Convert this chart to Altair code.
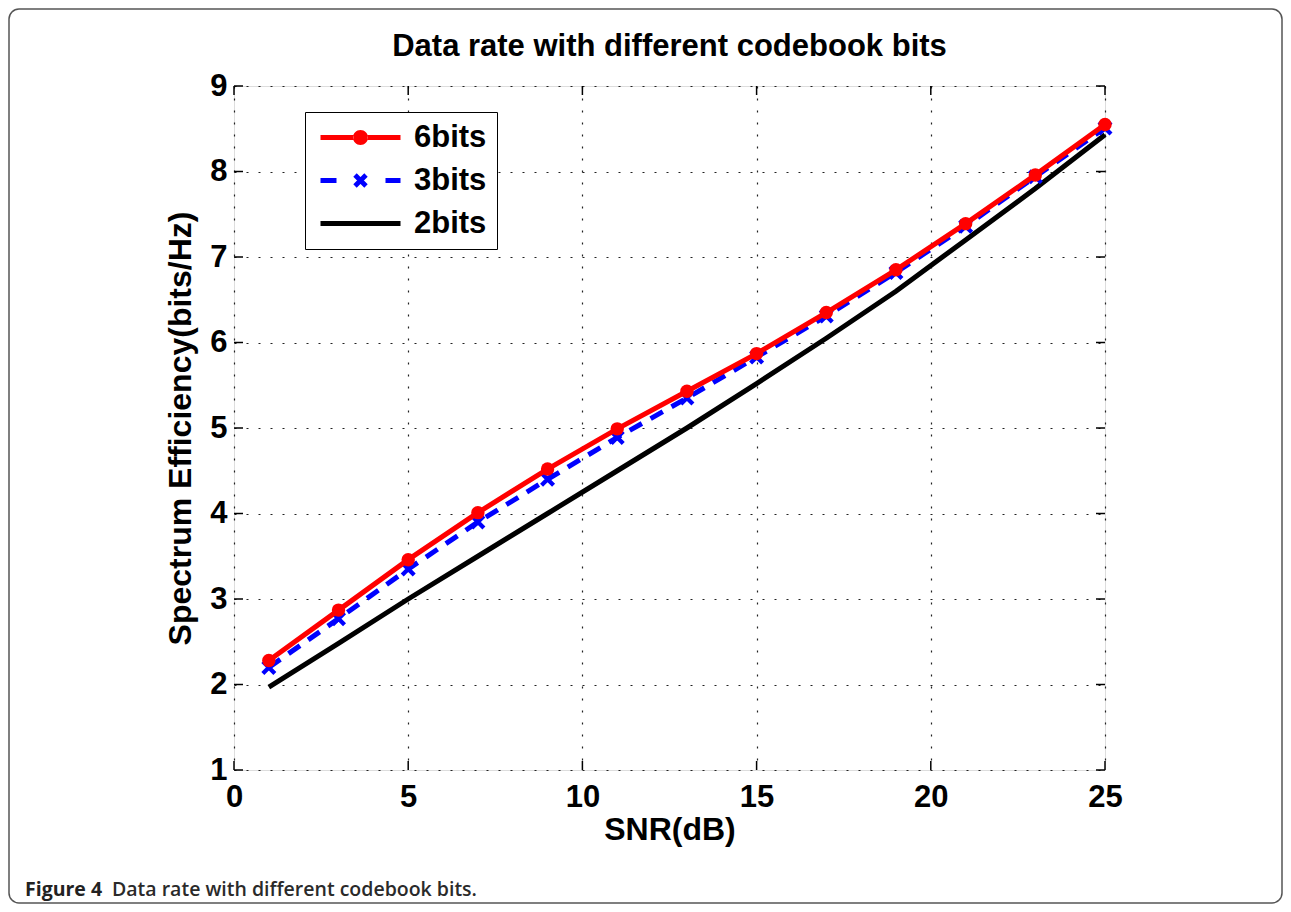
import altair as alt
import pandas as pd

snr = [1, 3, 5, 7, 9, 11, 13, 15, 17, 19, 21, 23, 25]
bits6 = [2.28, 2.87, 3.46, 4.01, 4.52, 4.99, 5.43, 5.87, 6.35, 6.85, 7.39, 7.96, 8.55]
bits3 = [2.20, 2.77, 3.35, 3.90, 4.40, 4.89, 5.35, 5.83, 6.31, 6.82, 7.36, 7.94, 8.51]
bits2 = [1.97, 2.48, 3.00, 3.50, 4.00, 4.50, 5.00, 5.52, 6.05, 6.60, 7.20, 7.80, 8.43]
series = ["6bits", "3bits", "2bits"]
colors = ["#ff0000", "#0000ff", "#000000"]
x_ticks = [0, 5, 10, 15, 20, 25]
y_ticks = [1, 2, 3, 4, 5, 6, 7, 8, 9]
title_text = "Data rate with different codebook bits"
caption_bold = "Figure 4"
caption_text = "Data rate with different codebook bits."

W, H = 871, 684
FONT = "Liberation Sans"


def x_path(cx, r, d):
    pts1 = [(-r + d, -r - d), (r + d, r - d), (r - d, r + d), (-r - d, -r + d)]
    pts2 = [(r + d, -r + d), (-r + d, r + d), (-r - d, r - d), (r - d, -r - d)]
    out = ""
    for pts in (pts1, pts2):
        out += "M" + " L".join(f"{cx + a:.3f},{b:.3f}" for a, b in pts) + " Z "
    return out.strip()


X_MARK = x_path(0, 1, 0.25)
t = 0.25
cr = 0.75
LEG_6 = (f"M-1,{-t} L{3 - cr + 0.03},{-t} L{3 - cr + 0.03},{t} L-1,{t} Z "
         f"M{3 + cr - 0.03},{-t} L7,{-t} L7,{t} L{3 + cr - 0.03},{t} Z "
         f"M{3 - cr},0 A{cr},{cr} 0 1,0 {3 + cr},0 "
         f"A{cr},{cr} 0 1,0 {3 - cr},0 Z")
LEG_3 = (f"M-1,{-t} L0.6,{-t} L0.6,{t} L-1,{t} Z "
         f"M5.5,{-t} L7,{-t} L7,{t} L5.5,{t} Z " + x_path(3, 0.55, 0.17))
LEG_2 = f"M-1,{-t} L7,{-t} L7,{t} L-1,{t} Z"

df6 = pd.DataFrame({"snr": snr, "v": bits6})
df3 = pd.DataFrame({"snr": snr, "v": bits3})
df2 = pd.DataFrame({"snr": snr, "v": bits2})
xs = alt.Scale(domain=[0, 25], nice=False, zero=False)
ys = alt.Scale(domain=[1, 9], nice=False, zero=False)

X = alt.X("snr:Q", scale=xs, title="SNR(dB)",
          axis=alt.Axis(values=x_ticks, format="d", ticks=False, domain=False,
                        labelFlush=False,
                        labelFont=FONT, labelFontSize=31, labelFontWeight="bold",
                        labelPadding=12, labelColor="black",
                        titleFont=FONT, titleFontSize=32, titleFontWeight="bold",
                        titleColor="black", titlePadding=2,
                        grid=True, gridDash=[2, 10], gridColor="#222",
                        gridWidth=1.2))
Y = alt.Y("v:Q", scale=ys, title="Spectrum Efficiency(bits/Hz)",
          axis=alt.Axis(values=y_ticks, format="d", ticks=False, domain=False,
                        labelFlush=False,
                        labelFont=FONT, labelFontSize=31, labelFontWeight="bold",
                        labelPadding=7, labelColor="black",
                        titleFont=FONT, titleFontSize=32, titleFontWeight="bold",
                        titleColor="black", titlePadding=12,
                        grid=True, gridDash=[2, 10], gridColor="#222",
                        gridWidth=1.2))

line2 = alt.Chart(df2).mark_line(color="black", strokeWidth=5).encode(x=X, y=Y)
line3 = alt.Chart(df3).mark_line(color="#0000ff", strokeWidth=5,
                                 strokeDash=[14, 10]).encode(x=X, y=Y)
pts3 = alt.Chart(df3).mark_point(shape=X_MARK, filled=True, color="#0000ff",
                                 size=144, opacity=1).encode(x=X, y=Y)
line6 = alt.Chart(df6).mark_line(color="#ff0000", strokeWidth=5).encode(x=X, y=Y)
pts6 = alt.Chart(df6).mark_point(shape="circle", filled=True, color="#ff0000",
                                 size=180, opacity=1).encode(x=X, y=Y)

# legend-only layer
leg_df = pd.DataFrame({"s": series, "snr": [1, 1, 1], "v": [bits6[0], bits3[0], bits2[0]]})
legend = alt.Legend(title=None, orient="none", legendX=71, legendY=26,
                    fillColor="white", strokeColor="black",
                    padding=10, rowPadding=11, labelOffset=68,
                    labelFont=FONT, labelFontSize=31, labelFontWeight="bold",
                    labelColor="black", symbolOpacity=1, symbolStrokeWidth=0,
                    symbolSize=400, labelBaseline="middle")
leg_layer = alt.Chart(leg_df).mark_point(filled=True, opacity=0).encode(
    x=X, y=Y,
    shape=alt.Shape("s:N", scale=alt.Scale(domain=series, range=[LEG_6, LEG_3, LEG_2]),
                    legend=legend),
    fill=alt.Fill("s:N", scale=alt.Scale(domain=series, range=colors), legend=legend),
)

# inward ticks
xt = pd.DataFrame({"snr": x_ticks})
yt = pd.DataFrame({"v": y_ticks})
tick_b = alt.Chart(xt).mark_rule(color="black", strokeWidth=1.5).encode(
    x=alt.X("snr:Q", scale=xs), y=alt.value(H), y2=alt.value(H - 9))
tick_t = alt.Chart(xt).mark_rule(color="black", strokeWidth=1.5).encode(
    x=alt.X("snr:Q", scale=xs), y=alt.value(0), y2=alt.value(9))
tick_l = alt.Chart(yt).mark_rule(color="black", strokeWidth=1.5).encode(
    y=alt.Y("v:Q", scale=ys), x=alt.value(0), x2=alt.value(9))
tick_r = alt.Chart(yt).mark_rule(color="black", strokeWidth=1.5).encode(
    y=alt.Y("v:Q", scale=ys), x=alt.value(W), x2=alt.value(W - 9))

# title, figure frame and caption
one = pd.DataFrame({"a": [0]})
title = alt.Chart(one).mark_text(text=title_text, font=FONT, fontSize=31,
                                 fontWeight="bold", align="center",
                                 baseline="middle", color="black").encode(
    x=alt.value(W / 2), y=alt.value(-39))
frame = alt.Chart(one).mark_rect(fill=None, stroke="#555", strokeWidth=1.5,
                                 cornerRadius=10).encode(
    x=alt.value(-225), x2=alt.value(1048), y=alt.value(-77), y2=alt.value(817))
cap1 = alt.Chart(one).mark_text(text=caption_bold, font="Open Sans", fontSize=19.5,
                                fontWeight="bold", align="left", baseline="middle",
                                color="#222").encode(x=alt.value(-209), y=alt.value(804))
cap2 = alt.Chart(one).mark_text(text=caption_text,
                                font="Open Sans", fontSize=19.5, fontWeight=600,
                                align="left", baseline="middle",
                                color="#2a2a2a").encode(x=alt.value(-122), y=alt.value(804))

chart = alt.layer(
    frame, title, cap1, cap2, line2, line3, pts3, line6, pts6, leg_layer,
    tick_b, tick_t, tick_l, tick_r,
).properties(
    width=W, height=H,
    autosize=alt.AutoSizeParams(type="none"),
    padding={"left": 226, "top": 78, "right": 178, "bottom": 134},
).configure_view(stroke="black", strokeWidth=1.5).configure(background="white")

chart.save("out.html", embed_options={"renderer": "svg", "actions": False})
